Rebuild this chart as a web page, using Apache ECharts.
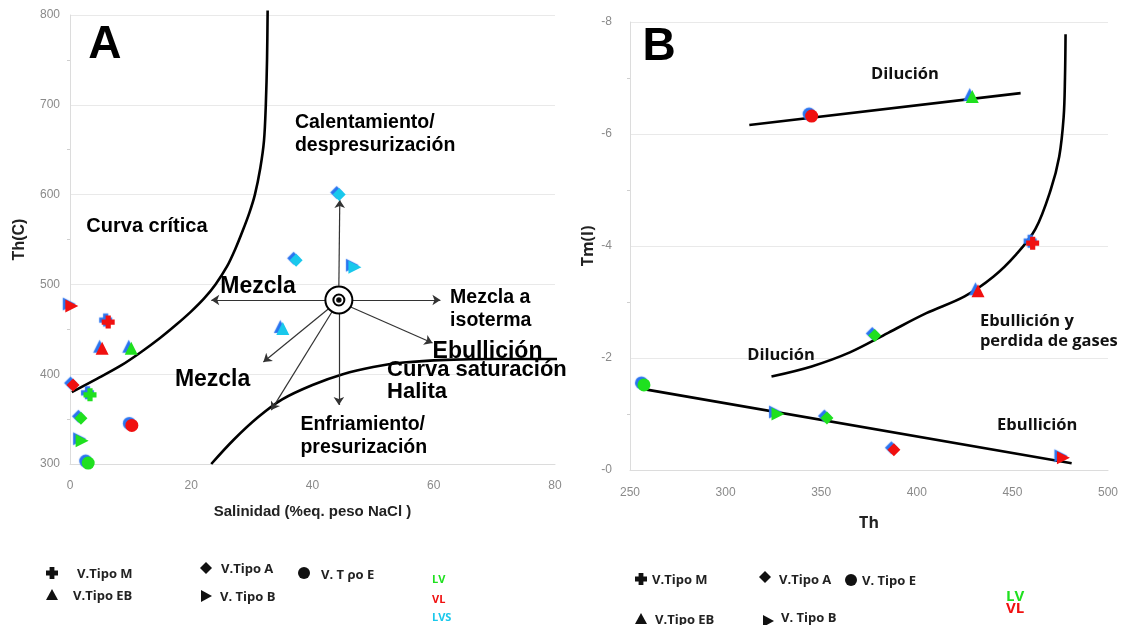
<!DOCTYPE html>
<html>
<head>
<meta charset="utf-8">
<script src="https://cdn.jsdelivr.net/npm/echarts@6/dist/echarts.min.js"></script>
<style>
  html, body { margin: 0; background: #fff; }
  #chart { width: 1128px; height: 625px; }
</style>
</head>
<body>
<div id="chart"></div>
<script>
// --- panel A: Th vs salinidad ---
const aSal = [44.4, 37.3, 47.0, 35.1, 0.3, 6.3, 5.3, 10.1, 0.5, 3.3, 1.8, 10.2, 2.0, 3.0];
const aTh = [600, 527, 519, 451, 476, 458, 429, 429, 388, 377, 351, 343, 326, 301];
const aType = ['A', 'A', 'B', 'EB', 'B', 'M', 'EB', 'EB', 'A', 'M', 'A', 'E', 'B', 'E'];
const aFluid = ['LVS', 'LVS', 'LVS', 'LVS', 'VL', 'VL', 'VL', 'LV', 'VL', 'LV', 'LV', 'VL', 'LV', 'LV'];

// curva critica / curva de saturacion de halita
const critSal = [0.3, 4.5, 8.5, 11.8, 14.8, 17.5, 20, 22.2, 24, 25.9, 27.3, 28.5, 29.6, 30.5, 31.4, 32, 32.3, 32.5, 32.6];
const critTh = [380, 395, 410, 425, 440, 455, 470, 485, 500, 520, 540, 560, 580, 600, 630, 660, 700, 750, 805];
const halSal = [23.3, 27, 31, 35, 40, 45, 50, 55, 62, 70, 82];
const halTh = [300, 327, 352, 372, 388, 400, 408, 413, 416, 417, 417];

// flechas del diagrama (desde el circulo central)
const centro = [44.35, 482.6];
const arrFrom = [[44.35, 498.4], [42.05, 482.6], [46.65, 482.6], [46.3, 474.8], [44.35, 467], [42.6, 472.6], [43.2, 469.3]];
const arrTo = [[44.5, 594], [23.3, 482.6], [61.1, 482.6], [59.8, 434.7], [44.35, 365.7], [31.9, 413.6], [33.2, 360]];

// --- panel B: Tm(l) vs Th ---
const bTh = [345, 429, 460.6, 432, 378, 257.3, 327.4, 353, 388, 476.7];
const bTm = [-6.32, -6.67, -4.05, -3.2, -2.4, -1.52, -1.0, -0.93, -0.36, -0.22];
const bType = ['E', 'EB', 'M', 'EB', 'A', 'E', 'B', 'A', 'A', 'B'];
const bFluid = ['VL', 'LV', 'VL', 'VL', 'LV', 'LV', 'LV', 'LV', 'VL', 'VL'];

const dilTh = [312.4, 454.3];
const dilTm = [-6.16, -6.73];
const ebuTh = [258, 481];
const ebuTm = [-1.44, -0.12];
const curTh = [324, 345, 365, 385, 405, 425, 440, 452, 462, 470, 474.5, 476.8, 477.5, 477.8];
const curTm = [-1.67, -1.85, -2.1, -2.45, -2.8, -3.1, -3.45, -3.85, -4.3, -5.0, -5.6, -6.3, -7.0, -7.78];

const legendTypes = ['M', 'EB', 'A', 'B', 'E'];
const legendNamesA = ['V.Tipo M', 'V.Tipo EB', 'V.Tipo A', 'V. Tipo B', 'V. T \u03c1o E'];
const legendNamesB = ['V.Tipo M', 'V.Tipo EB', 'V.Tipo A', 'V. Tipo B', 'V. Tipo E'];

const fluidColor = { LV: '#1fe01f', VL: '#f01010', LVS: '#19c8ec' };
const shapes = {
  M: 'path://M3,0H7V3H10V7H7V10H3V7H0V3H3Z',
  EB: 'triangle',
  A: 'diamond',
  B: 'path://M0,0L10,5L0,10Z',
  E: 'circle'
};

const zip = (xs, ys) => xs.map((x, i) => [x, ys[i]]);

function puntos(xs, ys, types, fluids) {
  return xs.map((x, i) => ({
    value: [x, ys[i]],
    symbol: shapes[types[i]],
    itemStyle: { color: fluidColor[fluids[i]] }
  }));
}

const markerStyle = {
  opacity: 1, shadowColor: '#2a74f0', shadowBlur: 1, shadowOffsetX: -2.5, shadowOffsetY: -2
};

function curva(xi, yi, data, smooth) {
  return {
    type: 'line', xAxisIndex: xi, yAxisIndex: yi, data: data, smooth: smooth,
    symbol: 'none', clip: false, z: 3,
    lineStyle: { color: '#000', width: 2.6 }
  };
}

// texto anotaciones
function nota(xi, yi, items) {
  return {
    type: 'scatter', xAxisIndex: xi, yAxisIndex: yi, symbolSize: 0, z: 6, silent: true,
    itemStyle: { opacity: 1 },
    data: items.map(t => ({
      value: [t.x, t.y], name: t.text,
      label: Object.assign({
        show: true, position: 'inside', formatter: '{b}', align: t.align || 'left',
        verticalAlign: 'middle', color: '#000', textBorderWidth: 0, opacity: 1
      }, t.style)
    }))
  };
}

const fArial = 'Liberation Sans, Arial, sans-serif';
const fCal = 'Open Sans, sans-serif';
const sMed = { fontFamily: fArial, fontSize: 19.5, fontWeight: 'bold', lineHeight: 23, color: '#000' };
const sBig = { fontFamily: fArial, fontSize: 23, fontWeight: 'bold', lineHeight: 23, color: '#000' };
const sB = { fontFamily: fCal, fontSize: 16.5, fontWeight: 'bold', lineHeight: 20, color: '#111' };

const notasA = [
  { text: 'A', x: 3.0, y: 766, style: { fontFamily: fArial, fontSize: 46, fontWeight: 'bold', color: '#000' } },
  { text: 'Calentamiento/\ndespresurización', x: 37.1, y: 667.5, style: sMed },
  { text: 'Curva crítica', x: 2.7, y: 564, style: Object.assign({}, sMed, { fontSize: 20 }) },
  { text: 'Mezcla', x: 24.8, y: 497, style: sBig },
  { text: 'Mezcla a\nisoterma', x: 62.7, y: 473, style: sMed },
  { text: 'Ebullición', x: 59.8, y: 425.5, style: sBig },
  { text: 'Curva saturación\nHalita', x: 52.3, y: 392, style: Object.assign({}, sBig, { fontSize: 22, lineHeight: 22 }) },
  { text: 'Mezcla', x: 17.3, y: 393.5, style: sBig },
  { text: 'Enfriamiento/\npresurización', x: 38.0, y: 330.6, style: sMed }
];
const notasB = [
  { text: 'B', x: 256.5, y: -7.54, style: { fontFamily: fArial, fontSize: 46, fontWeight: 'bold', color: '#000' } },
  { text: 'Dilución', x: 393.8, y: -7.07, align: 'center', style: sB },
  { text: 'Dilución', x: 329, y: -2.04, align: 'center', style: sB },
  { text: 'Ebullición y\nperdida de gases', x: 433, y: -2.48, style: sB },
  { text: 'Ebullición', x: 442, y: -0.79, style: sB }
];

function simbolo(kind, x, y, s) {
  if (kind === 'E') return { type: 'circle', shape: { cx: x, cy: y, r: s / 2 }, style: { fill: '#111' } };
  const h = s / 2, b = s / 5;
  let pts;
  if (kind === 'M') pts = [[x - b, y - h], [x + b, y - h], [x + b, y - b], [x + h, y - b], [x + h, y + b], [x + b, y + b], [x + b, y + h], [x - b, y + h], [x - b, y + b], [x - h, y + b], [x - h, y - b], [x - b, y - b]];
  if (kind === 'EB') pts = [[x, y - h], [x + h, y + h - 1], [x - h, y + h - 1]];
  if (kind === 'A') pts = [[x, y - h], [x + h, y], [x, y + h], [x - h, y]];
  if (kind === 'B') pts = [[x - h + 1, y - h], [x + h, y], [x - h + 1, y + h]];
  return { type: 'polygon', shape: { points: pts }, style: { fill: '#111' } };
}

function leyenda(names, symPos, txtPos, fluids, fluidPos, fluidSize) {
  const els = [];
  legendTypes.forEach((k, i) => {
    els.push(simbolo(k, symPos[i][0], symPos[i][1], 12));
    els.push({
      type: 'text', x: txtPos[i][0], y: txtPos[i][1],
      style: { text: names[i], fill: '#222', font: 'bold 13px "Open Sans", sans-serif', verticalAlign: 'middle' }
    });
  });
  fluids.forEach((f, i) => {
    els.push({
      type: 'text', x: fluidPos[i][0], y: fluidPos[i][1],
      style: { text: f, fill: fluidColor[f], font: 'bold ' + fluidSize + 'px "Open Sans", sans-serif', verticalAlign: 'middle' }
    });
  });
  return els;
}

const graphics = []
  .concat(leyenda(legendNamesA,
    [[52, 573], [52, 595], [206, 568], [206, 596], [304, 573]],
    [[77, 574], [73, 596], [221, 569], [220, 597], [321, 575]],
    ['LV', 'VL', 'LVS'], [[432, 580], [432, 600], [432, 618]], 11))
  .concat(leyenda(legendNamesB,
    [[641, 579], [641, 619], [765, 577], [768, 621], [851, 580]],
    [[652, 580], [655, 620], [779, 580], [781, 618], [862, 581]],
    ['LV', 'VL'], [[1006, 597], [1006, 609]], 15));

const axisLbl = { color: '#8a8a8a', fontSize: 12, fontFamily: fArial };
const split = { show: true, lineStyle: { color: '#e9e9e9', width: 1 } };
const axisLn = { show: true, lineStyle: { color: '#dcdcdc' } };
const nameStyle = { color: '#222', fontSize: 15, fontWeight: 'bold', fontFamily: fArial };

const option = {
  backgroundColor: '#fff',
  animation: false,
  grid: [
    { left: 70, top: 15, width: 485, height: 449 },
    { left: 630, top: 22, width: 478, height: 448 }
  ],
  xAxis: [
    {
      gridIndex: 0, type: 'value', min: 0, max: 80, interval: 20,
      name: 'Salinidad (%eq. peso NaCl )', nameLocation: 'middle', nameGap: 40, nameTextStyle: nameStyle,
      axisLabel: Object.assign({ margin: 16 }, axisLbl), axisLine: axisLn, axisTick: { show: false }, splitLine: { show: false }
    },
    {
      gridIndex: 1, type: 'value', min: 250, max: 500, interval: 50,
      name: 'Th', nameLocation: 'middle', nameGap: 45,
      nameTextStyle: { color: '#222', fontSize: 16, fontWeight: 'bold', fontFamily: fCal },
      axisLabel: Object.assign({ margin: 17 }, axisLbl), axisLine: axisLn, axisTick: { show: false }, splitLine: { show: false }
    }
  ],
  yAxis: [
    {
      gridIndex: 0, type: 'value', min: 300, max: 800, interval: 100,
      name: 'Th(C)', nameLocation: 'middle', nameGap: 42, nameRotate: 90,
      nameTextStyle: Object.assign({}, nameStyle, { fontSize: 16 }),
      axisLabel: Object.assign({ margin: 10 }, axisLbl), axisLine: axisLn, axisTick: { show: false },
      minorTick: { show: true, splitNumber: 2, length: 3, lineStyle: { color: '#cfcfcf' } },
      splitLine: split
    },
    {
      gridIndex: 1, type: 'value', min: -8, max: 0, interval: 2, inverse: true,
      name: 'Tm(l)', nameLocation: 'middle', nameGap: 34, nameRotate: 90,
      nameTextStyle: { color: '#222', fontSize: 16, fontWeight: 'bold', fontFamily: fCal },
      axisLabel: Object.assign({ margin: 18, formatter: v => (v === 0 ? '-0' : String(v)) }, axisLbl),
      axisLine: axisLn, axisTick: { show: false },
      minorTick: { show: true, splitNumber: 2, length: 3, lineStyle: { color: '#cfcfcf' } },
      splitLine: split
    }
  ],
  series: [
    curva(0, 0, zip(critSal, critTh), 0.3),
    curva(0, 0, zip(halSal, halTh), 0.35),
    {
      type: 'lines', coordinateSystem: 'cartesian2d', xAxisIndex: 0, yAxisIndex: 0, z: 4,
      symbol: ['none', 'arrow'], symbolSize: 8,
      lineStyle: { color: '#333', width: 1.2, opacity: 1 },
      data: arrFrom.map((p, i) => ({ coords: [p, arrTo[i]] }))
    },
    {
      type: 'scatter', xAxisIndex: 0, yAxisIndex: 0, z: 5, silent: true,
      data: [
        { value: centro, symbol: 'emptyCircle', symbolSize: 27 },
        { value: centro, symbol: 'emptyCircle', symbolSize: 11 },
        { value: centro, symbol: 'circle', symbolSize: 4 }
      ],
      itemStyle: { color: '#000', borderColor: '#111', borderWidth: 1.5, opacity: 1 }
    },
    {
      type: 'scatter', xAxisIndex: 0, yAxisIndex: 0, z: 7, symbolSize: 13,
      itemStyle: markerStyle,
      data: puntos(aSal, aTh, aType, aFluid)
    },
    nota(0, 0, notasA),
    curva(1, 1, zip(dilTh, dilTm), false),
    curva(1, 1, zip(ebuTh, ebuTm), false),
    curva(1, 1, zip(curTh, curTm), 0.35),
    {
      type: 'scatter', xAxisIndex: 1, yAxisIndex: 1, z: 7, symbolSize: 13,
      itemStyle: markerStyle,
      data: puntos(bTh, bTm, bType, bFluid)
    },
    nota(1, 1, notasB)
  ],
  graphic: graphics
};

const chart = echarts.init(document.getElementById('chart'));
chart.setOption(option);
</script>
</body>
</html>
